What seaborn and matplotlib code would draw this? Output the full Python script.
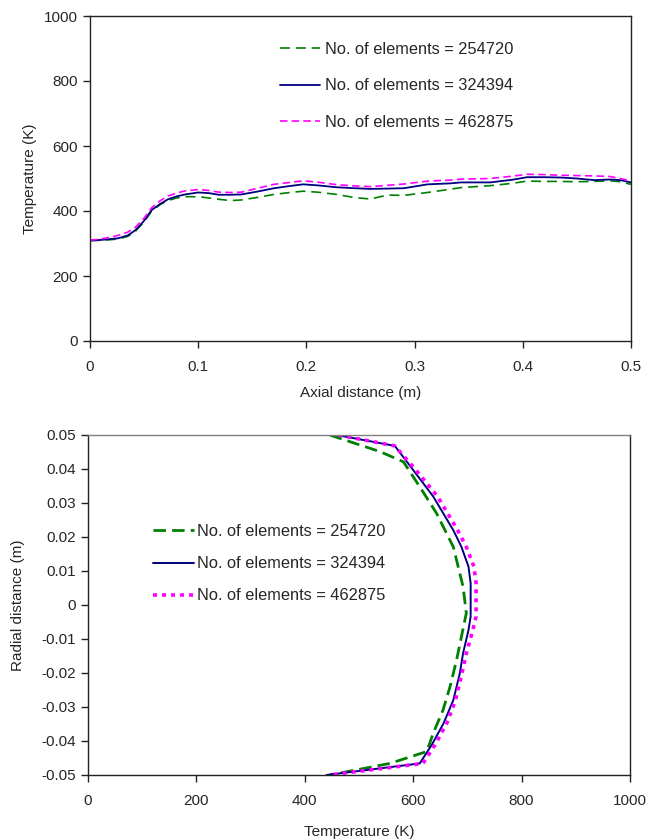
import numpy as np
import pandas as pd
import matplotlib
matplotlib.use("Agg")
import matplotlib.pyplot as plt
import seaborn as sns

# ---------------- data ----------------
labels = ["No. of elements = 254720", "No. of elements = 324394", "No. of elements = 462875"]

axial_x = [0, 0.01, 0.02, 0.026, 0.035, 0.042, 0.05, 0.057, 0.065, 0.072, 0.08, 0.088,
           0.1, 0.11, 0.119, 0.13, 0.14, 0.155, 0.17, 0.185, 0.197, 0.21, 0.228, 0.245,
           0.259, 0.275, 0.29, 0.312, 0.333, 0.343, 0.37, 0.39, 0.404, 0.42, 0.435, 0.45,
           0.466, 0.481, 0.49, 0.5]
axial_T_254720 = [309, 310, 312, 314, 322, 338, 366, 400, 420, 432, 440, 444,
                  444, 440, 436, 432, 434, 442, 451, 457, 461, 458, 451, 441,
                  437, 449, 448, 457, 467, 472, 478, 485, 492, 491, 491, 490,
                  491, 493, 490, 482]
axial_T_324394 = [309, 311, 314, 316, 325, 341, 370, 403, 422, 436, 445, 451,
                  457, 455, 450, 450, 451, 460, 470, 477, 482, 479, 473, 470,
                  468, 469, 470, 482, 485, 488, 488, 496, 504, 504, 503, 500,
                  495, 497, 495, 488]
axial_T_462875 = [310, 314, 320, 325, 335, 350, 378, 410, 432, 446, 455, 462,
                  466, 463, 458, 457, 458, 470, 482, 488, 493, 489, 481, 477,
                  475, 479, 483, 492, 495, 498, 500, 507, 513, 512, 510, 509,
                  508, 506, 500, 492]

radial_r_254720 = [0.05, 0.0451, 0.0421, 0.0348, 0.027, 0.0171, 0.0054, -0.0024, -0.0093,
                   -0.0162, -0.024, -0.0309, -0.0377, -0.0431, -0.0466, -0.05]
radial_T_254720 = [446, 539, 582, 612, 643, 674, 692, 698, 689, 680, 668, 655, 637, 625, 557, 446]

radial_r_fine = [0.05, 0.0468, 0.0397, 0.0319, 0.022, 0.0171, 0.0113, 0.0064, -0.0034,
                 -0.0074, -0.0142, -0.0201, -0.028, -0.0348, -0.0412, -0.0466, -0.05]
radial_T_324394 = [459, 566, 600, 637, 674, 689, 702, 706, 706, 702, 692, 686, 674, 656, 634, 612, 440]
radial_T_462875 = [462, 566, 605, 645, 682, 698, 712, 716, 716, 710, 698, 690, 678, 662, 640, 618, 445]

top_xticks = [0, 0.1, 0.2, 0.3, 0.4, 0.5]
top_xticklabels = ["0", "0.1", "0.2", "0.3", "0.4", "0.5"]
top_yticks = [0, 200, 400, 600, 800, 1000]
bot_xticks = [0, 200, 400, 600, 800, 1000]
bot_yticks = [-0.05, -0.04, -0.03, -0.02, -0.01, 0, 0.01, 0.02, 0.03, 0.04, 0.05]
bot_yticklabels = ["-0.05", "-0.04", "-0.03", "-0.02", "-0.01", "0",
                   "0.01", "0.02", "0.03", "0.04", "0.05"]

colors = ["#008000", "#000080", "#FF00FF"]

# ---------------- style ----------------
sns.set_style("ticks")
plt.rcParams["font.family"] = ["Liberation Sans", "DejaVu Sans"]
plt.rcParams["font.size"] = 11

fig = plt.figure(figsize=(6.51, 8.39), dpi=100)
ax1 = fig.add_axes([90/651, 1-341/839, 541/651, 325/839])
ax2 = fig.add_axes([88/651, 1-775/839, 542/651, 340/839])

# ---------------- top plot ----------------
top_series = [axial_T_254720, axial_T_324394, axial_T_462875]
top_styles = [dict(ls=(0, (6, 3.5)), lw=1.2), dict(ls="-", lw=1.3), dict(ls=(0, (4.5, 2.5)), lw=1.2)]
for i, lab in enumerate(labels):
    d = pd.DataFrame({"x": axial_x, "T": top_series[i]})
    sns.lineplot(data=d, x="x", y="T", ax=ax1, color=colors[i], label=lab,
                 linestyle=top_styles[i]["ls"], linewidth=top_styles[i]["lw"],
                 sort=False, estimator=None, errorbar=None)

ax1.set_xlim(0, 0.5)
ax1.set_ylim(0, 1000)
ax1.set_xticks(top_xticks)
ax1.set_xticklabels(top_xticklabels)
ax1.set_yticks(top_yticks)
ax1.set_xlabel("Axial distance (m)", labelpad=8)
ax1.set_ylabel("Temperature (K)", labelpad=5)
ax1.legend(loc="upper left", bbox_to_anchor=(0.352, 0.92), frameon=False,
           handlelength=2.4, handletextpad=0.3, labelspacing=1.3,
           borderaxespad=0, borderpad=0, fontsize=11.8)

# ---------------- bottom plot ----------------
bot_styles = [dict(ls=(0, (4.5, 2.2)), lw=2.0), dict(ls="-", lw=1.4), dict(ls=(0, (1.1, 1.4)), lw=2.6)]
rad_sets = [(radial_r_254720, radial_T_254720), (radial_r_fine, radial_T_324394),
            (radial_r_fine, radial_T_462875)]
for i, lab in enumerate(labels):
    r, T = rad_sets[i]
    d = pd.DataFrame({"T": T, "r": r})
    sns.lineplot(data=d, x="T", y="r", ax=ax2, color=colors[i], label=lab,
                 linestyle=bot_styles[i]["ls"], linewidth=bot_styles[i]["lw"],
                 sort=False, estimator=None, errorbar=None)

ax2.set_xlim(0, 1000)
ax2.set_ylim(-0.05, 0.05)
ax2.set_xticks(bot_xticks)
ax2.set_yticks(bot_yticks)
ax2.set_yticklabels(bot_yticklabels)
ax2.set_xlabel("Temperature (K)", labelpad=12)
ax2.set_ylabel("Radial distance (m)", labelpad=12)
ax2.legend(loc="upper left", bbox_to_anchor=(0.12, 0.738), frameon=False,
           handlelength=2.5, handletextpad=0.2, labelspacing=1.05,
           borderaxespad=0, borderpad=0, fontsize=11.8)

for ax in (ax1, ax2):
    for sp in ax.spines.values():
        sp.set_color("#222222")
        sp.set_linewidth(1.0)
    ax.tick_params(direction="out", length=5, width=1, color="#222222", labelsize=11)
    ax.xaxis.label.set_size(11)
    ax.yaxis.label.set_size(11)
ax1.tick_params(axis="x", pad=9)
ax2.tick_params(axis="x", pad=9)
ax2.spines["top"].set_color("#808080")

fig.savefig("out.png", dpi=100)
